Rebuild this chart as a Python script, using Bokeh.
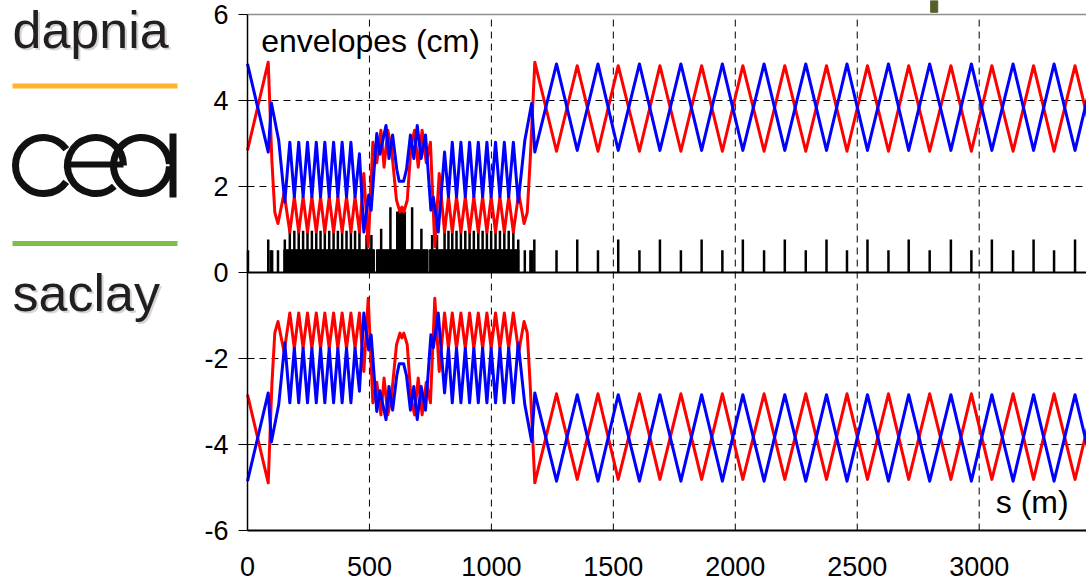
from bokeh.plotting import figure
from bokeh.layouts import row
from bokeh.models import Range1d, FixedTicker, Label
from bokeh.core.properties import value
from bokeh.embed import file_html
from bokeh.resources import INLINE

# ---------------- data ----------------
# blue envelope (upper half; lower half is its mirror image)
blue_s = [0, 85, 98, 128, 153,
          173.5, 192, 210, 228, 246, 264, 282, 299.5, 317, 335, 353, 370.5, 388, 406, 424, 441, 459, 477,
          497, 507, 530, 543, 568, 580, 595, 612, 622, 640, 652, 668, 682, 696, 712, 730, 752, 762, 782,
          808, 824, 839.6, 857, 875, 893, 910.6, 928, 946.3, 964, 981.6, 999, 1017, 1035, 1053, 1071, 1090,
          1110, 1137, 1165, 1178,
          1267, 1352, 1437, 1520, 1607, 1691, 1777, 1862, 1947, 2031, 2118, 2203, 2289, 2374,
          2458, 2542, 2628, 2711, 2797, 2884, 2968, 3052, 3139, 3223, 3307, 3393, 3477]
blue_env = [4.85, 2.80, 3.94, 3.07, 1.64,
            3.03, 1.76, 3.03, 1.76, 3.03, 1.76, 3.03, 1.76, 3.03, 1.76, 3.03, 1.76, 3.03, 1.76, 3.03, 1.76, 2.76, 0.94,
            1.80, 1.45, 3.23, 2.75, 3.42, 2.65, 3.20, 2.40, 2.12, 2.12, 2.40, 3.20, 2.65, 3.42, 2.65, 3.20, 1.45, 1.75, 0.94,
            2.80, 1.76, 3.03, 1.76, 3.03, 1.76, 3.03, 1.76, 3.03, 1.76, 3.03, 1.76, 3.03, 1.76, 3.03, 1.76, 3.03,
            1.64, 3.07, 3.93, 2.80,
            4.85, 2.84, 4.85, 2.84, 4.85, 2.84, 4.85, 2.84, 4.85, 2.84, 4.85, 2.84, 4.85, 2.84,
            4.85, 2.84, 4.85, 2.84, 4.85, 2.84, 4.85, 2.84, 4.85, 2.84, 4.85, 2.84, 4.85]

# red envelope
red_s = [0, 85, 100, 112, 125, 150,
         173.5, 192, 210, 228, 246, 264, 282, 299.5, 317, 335, 353, 370.5, 388, 406, 424, 441, 459,
         477, 495, 514, 530, 547, 560, 575, 590, 611, 625, 633, 641, 655, 670, 685, 700, 716, 733, 750, 768, 786,
         808, 824, 839.6, 857, 875, 893, 910.6, 928, 946.3, 964, 981.6, 999, 1017, 1035, 1053, 1071, 1090,
         1112, 1134, 1147, 1159, 1178,
         1267, 1352, 1437, 1520, 1607, 1691, 1777, 1862, 1947, 2031, 2118, 2203, 2289, 2374,
         2458, 2542, 2628, 2711, 2797, 2884, 2968, 3052, 3139, 3223, 3307, 3393, 3477]
red_env = [2.84, 4.89, 2.60, 1.40, 1.14, 1.85,
           0.94, 1.76, 0.94, 1.76, 0.94, 1.76, 0.94, 1.76, 0.94, 1.76, 0.94, 1.76, 0.94, 1.76, 0.94, 1.76, 0.94,
           2.30, 0.60, 3.03, 2.55, 3.31, 2.45, 3.31, 2.90, 1.68, 1.41, 1.52, 1.41, 1.68, 2.90, 3.31, 2.45, 3.31, 2.55, 3.03, 0.60, 2.30,
           0.94, 1.76, 0.94, 1.76, 0.94, 1.76, 0.94, 1.76, 0.94, 1.76, 0.94, 1.76, 0.94, 1.76, 0.94, 1.76, 0.94,
           1.85, 1.14, 1.40, 2.60, 4.89,
           2.82, 4.81, 2.82, 4.81, 2.82, 4.81, 2.82, 4.81, 2.82, 4.81, 2.82, 4.81, 2.82, 4.81,
           2.82, 4.81, 2.82, 4.81, 2.82, 4.81, 2.82, 4.81, 2.82, 4.81, 2.82, 4.81, 2.82]

# lattice elements (upper panel, black)
cav_left = [149, 529, 745]
cav_right = [521, 740, 1113]
cav_height = [0.53, 0.53, 0.53]
centre_left = [611]
centre_right = [648]
centre_height = [1.41]

quad_s = [2, 85, 95, 101, 125, 153,
          173.5, 192, 210, 228, 246, 264, 282, 299.5, 317, 335, 353, 370.5, 388, 406, 424, 441, 459,
          488, 508, 548, 586, 675, 713, 757, 777,
          808, 824, 839.6, 857, 875, 893, 910.6, 928, 946.3, 964, 981.6, 999, 1017, 1035, 1053, 1071, 1090,
          1110, 1137, 1160, 1166, 1176,
          1267, 1352, 1437, 1520, 1607, 1691, 1777, 1862, 1947, 2031, 2118, 2203, 2289, 2374,
          2458, 2542, 2628, 2711, 2797, 2884, 2968, 3052, 3139, 3223, 3307, 3393]
quad_h = [0.52, 0.77, 0.52, 0.52, 0.52, 0.77,
          0.97, 0.97, 0.97, 0.97, 0.97, 0.97, 0.97, 0.97, 0.97, 0.97, 0.97, 0.97, 0.97, 0.97, 0.97, 0.97, 0.97,
          0.87, 0.87, 1.02, 1.52, 1.52, 1.02, 0.87, 0.87,
          0.97, 0.97, 0.97, 0.97, 0.97, 0.97, 0.97, 0.97, 0.97, 0.97, 0.97, 0.97, 0.97, 0.97, 0.97, 0.97, 0.97,
          0.77, 0.52, 0.52, 0.52, 0.77,
          0.52, 0.77, 0.52, 0.77, 0.52, 0.77, 0.52, 0.77, 0.52, 0.77, 0.52, 0.77, 0.52, 0.77,
          0.52, 0.77, 0.52, 0.77, 0.52, 0.77, 0.52, 0.77, 0.52, 0.77, 0.52, 0.77]

S_MIN, S_MAX = 0, 3440
Y_MIN, Y_MAX = -6, 6
xtick_vals = [0, 500, 1000, 1500, 2000, 2500, 3000]
xtick_labels = ["0", "500", "1000", "1500", "2000", "2500", "3000"]
ytick_vals = [-6, -4, -2, 0, 2, 4, 6]
ytick_labels = ["-6", "-4", "-2", "0", "2", "4", "6"]
xgrid_vals = [500, 1000, 1500, 2000, 2500, 3000]
ygrid_vals = [-4, -2, 2, 4]

FONT = "Liberation Sans"
INK = "#111111"

# ---------------- logo panel (y measured upward, page y = 583 - y) ----------------
logo = figure(width=190, height=583, x_range=Range1d(0, 190), y_range=Range1d(0, 583),
              x_axis_location=None, y_axis_location=None, toolbar_location=None,
              output_backend="svg", min_border_left=0, min_border_right=0,
              min_border_top=0, min_border_bottom=0)
logo.grid.visible = False
logo.outline_line_color = None

for txt, yb in (("dapnia", 554), ("saclay", 291)):
    logo.text(x=[14], y=[yb - 2], text=[txt], text_font=value(FONT), text_font_size="52px",
              text_baseline="alphabetic", text_color="#d6d6d6")
    logo.text(x=[12], y=[yb], text=[txt], text_font=value(FONT), text_font_size="52px",
              text_baseline="alphabetic", text_color="#231f20")

logo.segment(x0=[12], y0=[497.5], x1=[177], y1=[497.5], line_color="#fbb52a", line_width=5)
logo.segment(x0=[12], y0=[340], x1=[177], y1=[340], line_color="#7cc142", line_width=5)

# cea logo
logo.arc(x=[43], y=[418], radius=28, start_angle=0.62, end_angle=5.66,
         direction="anticlock", line_color=INK, line_width=7)
logo.arc(x=[95], y=[418], radius=28, start_angle=0.0, end_angle=5.45,
         direction="anticlock", line_color=INK, line_width=7)
logo.segment(x0=[67], y0=[419], x1=[123], y1=[419], line_color=INK, line_width=6)
logo.arc(x=[141], y=[418], radius=28, start_angle=0.05, end_angle=6.25,
         direction="anticlock", line_color=INK, line_width=7)
logo.segment(x0=[172.5], y0=[386], x1=[172.5], y1=[450], line_color=INK, line_width=7)

# ---------------- main plot ----------------
# the frame fills the whole figure; the axes sit at s = 0 and y = -6
p = figure(width=896, height=583, x_range=Range1d(-233.7, S_MAX), y_range=Range1d(-7.231, 6.325),
           toolbar_location=None, output_backend="svg",
           min_border_left=0, min_border_right=0, min_border_top=0, min_border_bottom=0)
p.outline_line_color = None
p.background_fill_color = "white"
p.grid.visible = False

# dashed grid, solid frame lines
p.segment(x0=xgrid_vals, y0=[Y_MIN] * len(xgrid_vals), x1=xgrid_vals, y1=[Y_MAX] * len(xgrid_vals),
          line_color="black", line_dash="7 5", line_width=1)
p.segment(x0=[S_MIN] * len(ygrid_vals), y0=ygrid_vals, x1=[S_MAX] * len(ygrid_vals), y1=ygrid_vals,
          line_color="black", line_dash="7 5", line_width=1)
p.segment(x0=[S_MIN], y0=[Y_MAX], x1=[S_MAX], y1=[Y_MAX], line_color="#8f8f8f", line_width=1.5)
p.segment(x0=[S_MIN], y0=[0], x1=[S_MAX], y1=[0], line_color="black", line_width=2)

# axes
p.yaxis.fixed_location = S_MIN
p.yaxis.ticker = FixedTicker(ticks=ytick_vals)
p.yaxis.bounds = (Y_MIN, Y_MAX)
p.yaxis.major_label_overrides = {v: s for v, s in zip(ytick_vals, ytick_labels)}
p.yaxis.major_tick_out = 9
p.yaxis.major_tick_in = 0
p.yaxis.minor_tick_out = 0
p.yaxis.minor_tick_in = 0
p.yaxis.axis_line_width = 1.5
p.yaxis.axis_line_color = "black"
p.yaxis.major_tick_line_color = "black"
p.yaxis.major_label_text_font = FONT
p.yaxis.major_label_text_font_size = "27px"
p.yaxis.major_label_text_color = "black"
p.yaxis.major_label_standoff = 10

p.xaxis.fixed_location = Y_MIN
p.xaxis.ticker = FixedTicker(ticks=xtick_vals)
p.xaxis.bounds = (S_MIN, S_MAX)
p.xaxis.major_label_overrides = {v: s for v, s in zip(xtick_vals, xtick_labels)}
p.xaxis.major_tick_out = 0
p.xaxis.major_tick_in = 0
p.xaxis.minor_tick_out = 0
p.xaxis.minor_tick_in = 0
p.xaxis.axis_line_width = 2
p.xaxis.axis_line_color = "black"
p.xaxis.major_label_text_font = FONT
p.xaxis.major_label_text_font_size = "27px"
p.xaxis.major_label_text_color = "black"
p.xaxis.major_label_standoff = 26

# lattice elements
p.quad(left=cav_left, right=cav_right, bottom=[0] * len(cav_left), top=cav_height,
       fill_color="black", line_color="black", line_width=1)
p.quad(left=centre_left, right=centre_right, bottom=[0], top=centre_height,
       fill_color="black", line_color="black", line_width=1)
p.segment(x0=quad_s, y0=[0] * len(quad_s), x1=quad_s, y1=quad_h, line_color="black", line_width=2.5)

# envelopes: upper and mirrored lower
p.line(red_s, red_env, line_color="#ff0000", line_width=3, line_join="round")
p.line(red_s, [-v for v in red_env], line_color="#ff0000", line_width=3, line_join="round")
p.line(blue_s, blue_env, line_color="#0000ff", line_width=3, line_join="round")
p.line(blue_s, [-v for v in blue_env], line_color="#0000ff", line_width=3, line_join="round")

# small mark at the top edge of the slide
mark_left, mark_right, mark_bottom, mark_top = [2801], [2830], [6.05], [6.325]
p.quad(left=mark_left, right=mark_right, bottom=mark_bottom, top=mark_top,
       fill_color="#56612a", line_color="#56612a")

p.add_layout(Label(x=56, y=5.39, text="envelopes (cm)", text_font=FONT, text_font_size="32px",
                   text_baseline="alphabetic", text_color="black"))
p.add_layout(Label(x=3068, y=-5.33, text="s (m)", text_font=FONT, text_font_size="32px",
                   text_baseline="alphabetic", text_color="black"))

layout = row(logo, p)
open("out.html", "w").write(file_html(layout, INLINE))
